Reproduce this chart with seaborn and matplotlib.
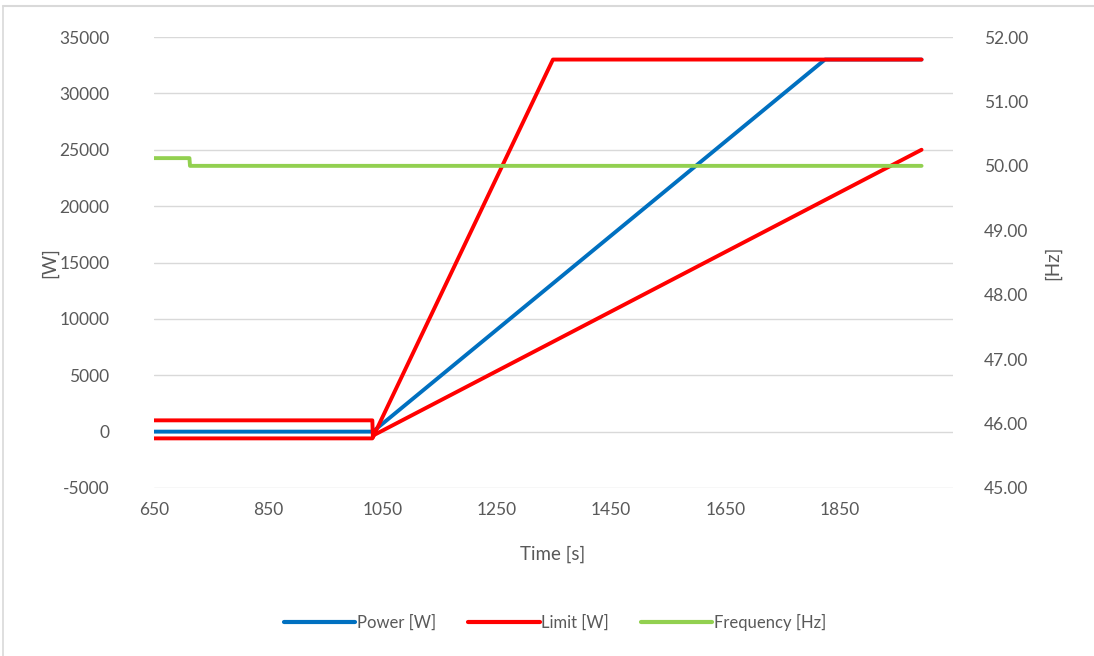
import matplotlib
matplotlib.use("Agg")
import matplotlib.pyplot as plt
import seaborn as sns
import pandas as pd
from matplotlib.lines import Line2D

# ---- data ----
power_t = [650, 1033, 1824, 1993]
power_w = [0, 0, 33000, 33000]

limit_hi_t = [650, 1032, 1033, 1348, 1993]
limit_hi_w = [1000, 1000, -500, 33000, 33000]

limit_lo_t = [650, 1032, 1035, 1993]
limit_lo_w = [-600, -600, -300, 25000]

freq_t = [650, 712, 713, 1993]
freq_hz = [50.12, 50.12, 50.00, 50.00]

x_ticks = [650, 850, 1050, 1250, 1450, 1650, 1850]
y_ticks = [-5000, 0, 5000, 10000, 15000, 20000, 25000, 30000, 35000]
hz_ticks = [45, 46, 47, 48, 49, 50, 51, 52]

BLUE = "#0070C0"
RED = "#FF0000"
GREEN = "#92D050"
TXT = "#595959"
GRID = "#D9D9D9"

sns.set_theme(style="white")
plt.rcParams["font.family"] = ["Lato", "DejaVu Sans"]
plt.rcParams["axes.unicode_minus"] = False

fig = plt.figure(figsize=(10.94, 6.56), dpi=100)
ax = fig.add_axes([154 / 1094, (656 - 488) / 656, (953 - 154) / 1094, (488 - 37) / 656])
ax2 = ax.twinx()

df_p = pd.DataFrame({"t": power_t, "v": power_w})
df_hi = pd.DataFrame({"t": limit_hi_t, "v": limit_hi_w})
df_lo = pd.DataFrame({"t": limit_lo_t, "v": limit_lo_w})
df_f = pd.DataFrame({"t": freq_t, "v": freq_hz})

lw = 2.8
sns.lineplot(data=df_p, x="t", y="v", ax=ax, color=BLUE, lw=lw, sort=False, zorder=3)
sns.lineplot(data=df_hi, x="t", y="v", ax=ax, color=RED, lw=lw, sort=False, zorder=4)
sns.lineplot(data=df_lo, x="t", y="v", ax=ax, color=RED, lw=lw, sort=False, zorder=4)
sns.lineplot(data=df_f, x="t", y="v", ax=ax2, color=GREEN, lw=lw, sort=False, zorder=5)

ax.set_xlim(650, 2048)
ax.set_ylim(-5000, 35000)
ax2.set_ylim(45, 52)
ax.set_xticks(x_ticks)
ax.set_yticks(y_ticks)
ax2.set_yticks(hz_ticks)
ax2.set_yticklabels([f"{v:.2f}" for v in hz_ticks])

ax.grid(axis="y", color=GRID, lw=1)
ax.grid(axis="x", visible=False)
ax2.grid(False)
for a in (ax, ax2):
    for s in a.spines.values():
        s.set_visible(False)
    a.tick_params(length=0, colors=TXT, labelsize=12.5)
ax.tick_params(axis="x", pad=10)
ax.tick_params(axis="y", pad=32)
ax2.tick_params(axis="y", pad=22)

ax.set_xlabel("Time [s]", color=TXT, fontsize=13.5)
ax.xaxis.set_label_coords((553 - 154) / (953 - 154), -(546 - 488) / 451, transform=ax.transAxes)
ax.set_ylabel("[W]", color=TXT, fontsize=13.5)
ax.yaxis.set_label_coords(-(154 - 58) / 799, 0.5)
ax2.set_ylabel("[Hz]", color=TXT, fontsize=13.5, rotation=90)
ax2.yaxis.set_label_coords(1 + (1044 - 953) / 799, 0.5)

handles = [Line2D([], [], color=BLUE, lw=3),
           Line2D([], [], color=RED, lw=3),
           Line2D([], [], color=GREEN, lw=3)]
labels = ["Power [W]", "Limit [W]", "Frequency [Hz]"]
fig.legend(handles, labels, loc="center", bbox_to_anchor=(555 / 1094, 1 - 622 / 656),
           ncol=3, frameon=False, fontsize=12, handlelength=4.3, handletextpad=0.1,
           columnspacing=1.9, labelcolor=TXT)

# light frame at top and left like the reference crop
fig.add_artist(Line2D([3 / 1094, 3 / 1094], [0, 1 - 6 / 656], transform=fig.transFigure,
                      color="#D9D9D9", lw=1.2))
fig.add_artist(Line2D([3 / 1094, 1], [1 - 6 / 656, 1 - 6 / 656], transform=fig.transFigure,
                      color="#D9D9D9", lw=1.5))

fig.savefig("out.png", dpi=100, facecolor="white")
